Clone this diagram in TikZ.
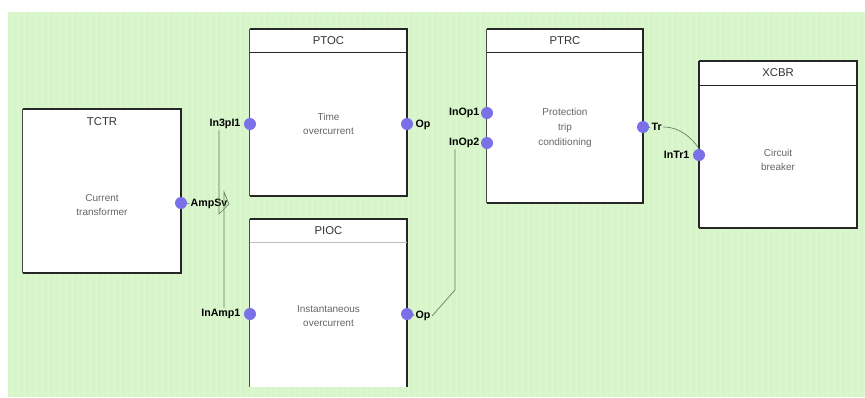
\documentclass[tikz,border=0pt]{standalone}
\usepackage{fontspec}
\setmainfont{Liberation Sans}
\definecolor{bg}{RGB}{214,245,200}
\definecolor{gridc}{RGB}{222,248,210}
\definecolor{portc}{RGB}{122,112,232}
\definecolor{wirec}{RGB}{100,125,90}
\begin{document}
\begin{tikzpicture}[x=0.75pt,y=-0.75pt,
  lnbox/.style={rectangle,fill=white,draw=none,inner sep=0},
  boxedge/.style={line width=1.3pt,black!85},
  leftedge/.style={line width=0.6pt,black!70},
  sepline/.style={line width=1.1pt,black!85},
  lightsep/.style={line width=0.6pt,black!25},
  ttl/.style={font=\fontsize{8.5}{10}\selectfont,text=black!80},
  body/.style={font=\fontsize{7.5}{11}\selectfont,text=black!60,align=center},
  plabel/.style={font=\fontsize{8}{9}\selectfont\bfseries,text=black,inner sep=1pt},
  port/.style={circle,fill=portc,draw=none,inner sep=0,minimum size=9pt},
  wire/.style={line width=0.5pt,wirec}]
\useasboundingbox (0,0) rectangle (865,397);
\fill[white] (0,0) rectangle (865,397);
\fill[bg] (8,12) rectangle (865,397);
\draw[gridc,line width=0.25pt,step=6] (8,12) grid (865,397);

% TCTR
\node[lnbox,minimum width=118.5pt,minimum height=123pt] (tctr) at (102,191) {};
\draw[boxedge] (tctr.north west) -- (tctr.north east) -- (tctr.south east) -- (tctr.south west);
\draw[leftedge] (tctr.north west) -- (tctr.south west);
\node[ttl] (tctrt) at (102,122) {TCTR};
\node[body] (tctrb) at (102,205) {Current\\transformer};

% PTOC
\node[lnbox,minimum width=117.75pt,minimum height=125.25pt] (ptoc) at (328.5,112.5) {};
\draw[boxedge] (ptoc.north west) -- (ptoc.north east) -- (ptoc.south east) -- (ptoc.south west);
\draw[leftedge] (ptoc.north west) -- (ptoc.south west);
\draw[sepline] ([yshift=-24*0.75pt]ptoc.north west) -- ([yshift=-24*0.75pt]ptoc.north east);
\node[ttl] (ptoct) at (328.5,41) {PTOC};
\node[body] (ptocb) at (328.5,124) {Time\\overcurrent};

% PIOC
\node[lnbox,minimum width=117.75pt,minimum height=126pt] (pioc) at (328.5,303) {};
\draw[boxedge] (pioc.north west) -- (pioc.north east) -- (pioc.south east);
\draw[leftedge] (pioc.north west) -- (pioc.south west);
\draw[lightsep] ([yshift=-24*0.75pt]pioc.north west) -- ([yshift=-24*0.75pt]pioc.north east);
\node[ttl] (piocT) at (328.5,231) {PIOC};
\node[body] (piocb) at (328.5,316) {Instantaneous\\overcurrent};

% PTRC
\node[lnbox,minimum width=117pt,minimum height=130.5pt] (ptrc) at (565,116) {};
\draw[boxedge] (ptrc.north west) -- (ptrc.north east) -- (ptrc.south east) -- (ptrc.south west);
\draw[leftedge] (ptrc.north west) -- (ptrc.south west);
\draw[sepline] ([yshift=-24*0.75pt]ptrc.north west) -- ([yshift=-24*0.75pt]ptrc.north east);
\node[ttl] (ptrct) at (565,41) {PTRC};
\node[body] (ptrcb) at (565,128) {Protection\\trip\\conditioning};

% XCBR
\node[lnbox,minimum width=118.5pt,minimum height=125.25pt] (xcbr) at (778,144.5) {};
\draw[boxedge] (xcbr.north west) -- (xcbr.north east) -- (xcbr.south east) -- (xcbr.south west);
\draw[boxedge] (xcbr.north west) -- (xcbr.south west);
\draw[sepline] ([yshift=-25*0.75pt]xcbr.north west) -- ([yshift=-25*0.75pt]xcbr.north east);
\node[ttl] (xcbrt) at (778,73) {XCBR};
\node[body] (xcbrb) at (778,160) {Circuit\\breaker};

% ports
\node[port] (pTctr) at (181,203) {};
\node[port] (pPtocI) at (250,124) {};
\node[port] (pPtocO) at (407,124) {};
\node[port] (pPiocI) at (250,314) {};
\node[port] (pPiocO) at (407,314) {};
\node[port] (pPtrcI1) at (487,113) {};
\node[port] (pPtrcI2) at (487,143) {};
\node[port] (pPtrcO) at (643,127) {};
\node[port] (pXcbrI) at (699,155) {};

% port labels
\node[plabel,anchor=west] (lAmp) at (189,204) {AmpSv};
\node[plabel,anchor=east] (lPtocI) at (242,124) {In3pI1};
\node[plabel,anchor=west] (lPtocO) at (414,125) {Op};
\node[plabel,anchor=east] (lPiocI) at (242,314) {InAmp1};
\node[plabel,anchor=west] (lPiocO) at (414,316) {Op};
\node[plabel,anchor=east] (lPtrcI1) at (481,113) {InOp1};
\node[plabel,anchor=east] (lPtrcI2) at (481,143) {InOp2};
\node[plabel,anchor=west] (lPtrcO) at (650,127) {Tr};
\node[plabel,anchor=east] (lXcbrI) at (691,155) {InTr1};

% wires
\coordinate (w1a) at (219,214);
\coordinate (w2a) at (224,192);
\coordinate (w3a) at (455,290);
\draw[wire] (pTctr.east) -- (lAmp.west);
\draw[wire] (lAmp.east) -- (w1a) -- (w1a |- lPtocI.south);
\draw[wire] (lAmp.east) -- (w2a) -- (w2a |- lPiocI.north);
\draw[wire] (pPiocO.east) -- (lPiocO.west);
\draw[wire] (lPiocO.east) -- (w3a) -- (w3a |- lPtrcI2.south);
\draw[wire] (pPtrcO.east) -- (lPtrcO.west);
\draw[wire] (lPtrcO.east) .. controls (680,127) and (692,138) .. (pXcbrI.north);
\end{tikzpicture}
\end{document}
